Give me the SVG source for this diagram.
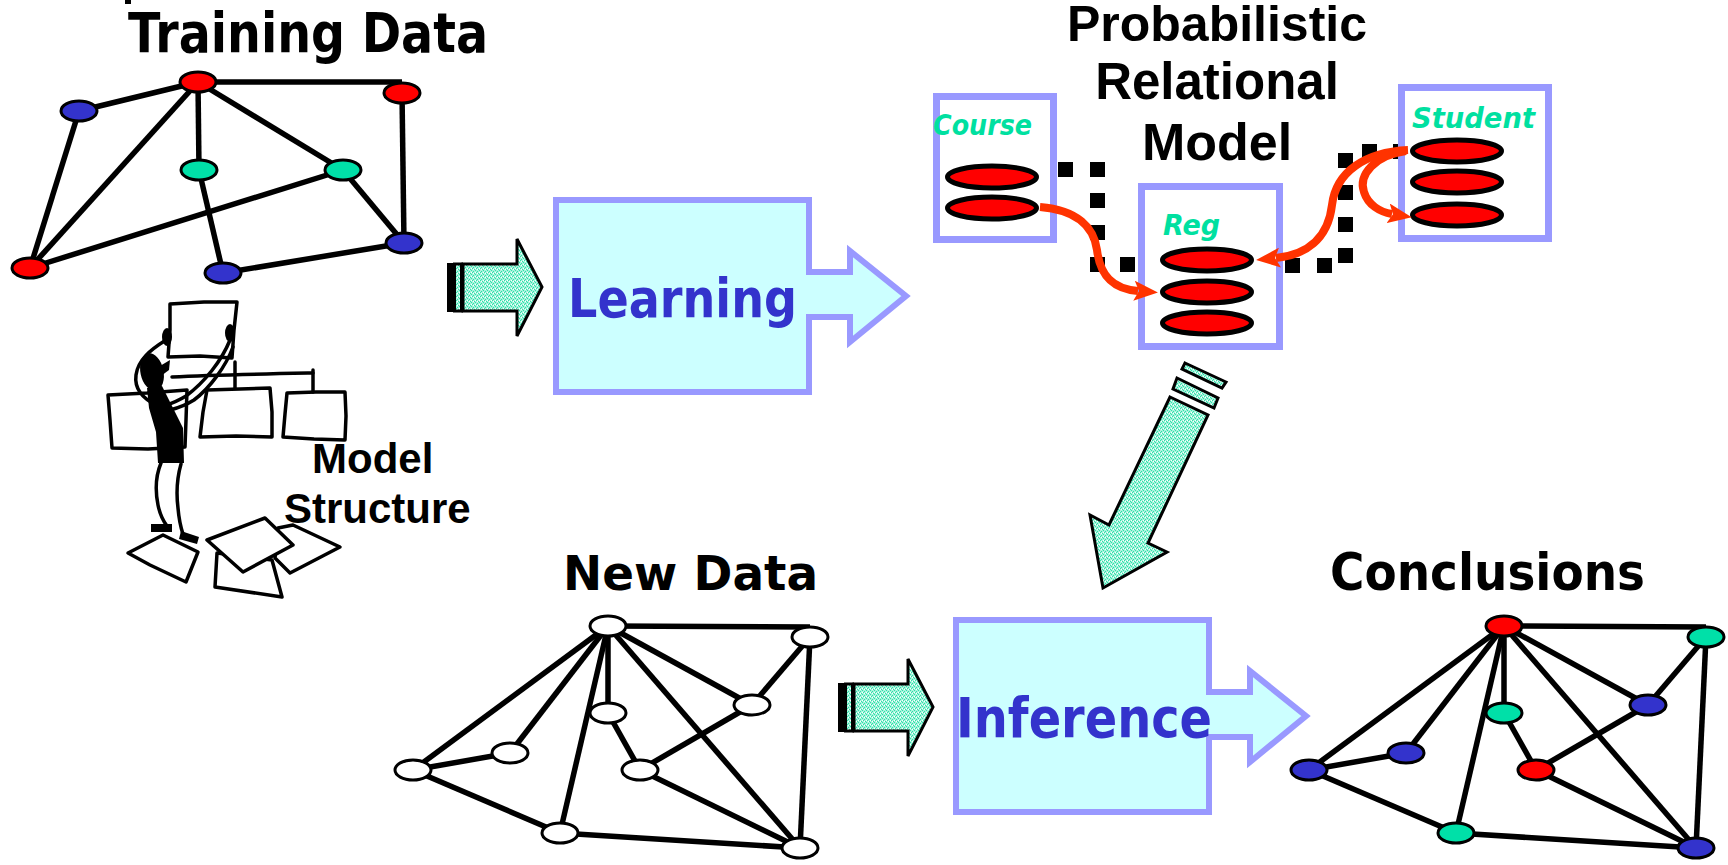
<svg xmlns="http://www.w3.org/2000/svg" width="1728" height="865" viewBox="0 0 1728 865">
  <style>
    .edge{stroke:#000;stroke-width:5.5;fill:none}
    .nd{stroke:#000;stroke-width:3}
    .red{fill:#FF0000}
    .blue{fill:#3333CC}
    .green{fill:#00E0A8}
    .white{fill:#FFFFFF}
    .title{font-family:"DejaVu Sans",Verdana,sans-serif;font-weight:bold;fill:#000}
    .stage{font-family:"DejaVu Sans",Verdana,sans-serif;font-weight:bold;fill:#3333CC}
    .arial{font-family:"Liberation Sans",Arial,sans-serif;font-weight:bold;fill:#000}
    .cls{font-family:"DejaVu Sans",sans-serif;font-weight:bold;font-style:italic;fill:#00E0A0}
    .block{fill:#CCFFFF;stroke:#9999FF;stroke-width:6;stroke-linejoin:miter}
    .ent{fill:#FFFFFF;stroke:#9999FF;stroke-width:7}
    .attr{fill:#FF0000;stroke:#000;stroke-width:5}
    .dep{fill:none;stroke:#FF3300;stroke-width:8;marker-end:url(#head)}
    .sq{fill:#000}
    .ink{fill:none;stroke:#000;stroke-width:3.5;stroke-linejoin:round;stroke-linecap:round}
    .paper{fill:#FFF;stroke:#000;stroke-width:3.5;stroke-linejoin:round}
    .fat{fill:url(#speckle);stroke:#000;stroke-width:3;stroke-linejoin:miter}
  </style>
  <defs>
    <pattern id="speckle" width="4" height="4" patternUnits="userSpaceOnUse">
      <rect width="4" height="4" fill="#A6F4DC"/>
      <rect x="0" y="0" width="1" height="1" fill="#30DDA8"/>
      <rect x="2" y="1" width="1" height="1" fill="#30DDA8"/>
      <rect x="1" y="3" width="1" height="1" fill="#30DDA8"/>
      <rect x="3" y="2" width="1" height="1" fill="#30DDA8"/>
      <rect x="3" y="0" width="1" height="1" fill="#FFFFFF"/>
      <rect x="1" y="1" width="1" height="1" fill="#FFFFFF"/>
    </pattern>
    <marker id="head" viewBox="0 0 24 20" markerWidth="24" markerHeight="20" refX="4" refY="10" orient="auto" markerUnits="userSpaceOnUse">
      <path d="M0,0 L24,10 L0,20 L5,10 Z" fill="#FF3300"/>
    </marker>
    <g id="small-arrow">
      <rect x="447" y="263" width="6" height="49" fill="#000"/>
      <rect x="454.5" y="264" width="7" height="47" class="fat" stroke-width="2"/>
      <polygon points="463,264 517,264 517,239 542,287 517,336 517,311 463,311" class="fat"/>
    </g>
    <path id="block-arrow" d="M556,200 H809 V272 H850 V251 L906,296 L850,342 V317 H809 V392 H556 Z"/>
  </defs>

  <rect width="1728" height="865" fill="#FFFFFF"/>
  <rect x="125" y="0" width="6" height="4" fill="#000"/>

  <!-- graph edges -->
  <g id="graph-edges" class="edge">
    <g id="edges-training">
      <path d="M198,82 L402,82"/>
      <path d="M402,93 L404,243"/>
      <path d="M198,82 L79,111"/>
      <path d="M198,82 L199,170"/>
      <path d="M198,82 L30,268"/>
      <path d="M198,82 L343,170"/>
      <path d="M79,111 L30,268"/>
      <path d="M30,268 L343,170"/>
      <path d="M199,170 L223,273"/>
      <path d="M343,170 L404,243"/>
      <path d="M223,273 L404,243"/>
    </g>
    <g id="edges-new">
      <path d="M608,626 L810,627"/>
      <path d="M608,626 L413,770"/>
      <path d="M608,626 L510,753"/>
      <path d="M608,626 L560,833"/>
      <path d="M608,626 L608,713"/>
      <path d="M608,626 L800,848"/>
      <path d="M608,626 L752,705"/>
      <path d="M810,637 L752,705"/>
      <path d="M810,637 L800,848"/>
      <path d="M608,713 L640,770"/>
      <path d="M640,770 L752,705"/>
      <path d="M640,770 L800,848"/>
      <path d="M413,770 L510,753"/>
      <path d="M413,770 L560,833"/>
      <path d="M560,833 L800,848"/>
    </g>
    <g id="edges-conclusions" transform="translate(896,0)">
      <path d="M608,626 L810,627"/>
      <path d="M608,626 L413,770"/>
      <path d="M608,626 L510,753"/>
      <path d="M608,626 L560,833"/>
      <path d="M608,626 L608,713"/>
      <path d="M608,626 L800,848"/>
      <path d="M608,626 L752,705"/>
      <path d="M810,637 L752,705"/>
      <path d="M810,637 L800,848"/>
      <path d="M608,713 L640,770"/>
      <path d="M640,770 L752,705"/>
      <path d="M640,770 L800,848"/>
      <path d="M413,770 L510,753"/>
      <path d="M413,770 L560,833"/>
      <path d="M560,833 L800,848"/>
    </g>
  </g>

  <!-- training data graph -->
  <g id="training-data">
    <text class="title" x="128" y="52" font-size="55" textLength="360" lengthAdjust="spacingAndGlyphs">Training Data</text>
    <g id="td-a"><ellipse cx="198" cy="82" rx="18" ry="10" class="nd red"/></g>
    <g id="td-b"><ellipse cx="402" cy="93" rx="18" ry="10" class="nd red"/></g>
    <g id="td-c"><ellipse cx="79" cy="111" rx="18" ry="10" class="nd blue"/></g>
    <g id="td-d"><ellipse cx="199" cy="170" rx="18" ry="10" class="nd green"/></g>
    <g id="td-e"><ellipse cx="343" cy="170" rx="18" ry="10" class="nd green"/></g>
    <g id="td-f"><ellipse cx="404" cy="243" rx="18" ry="10" class="nd blue"/></g>
    <g id="td-g"><ellipse cx="30" cy="268" rx="18" ry="10" class="nd red"/></g>
    <g id="td-h"><ellipse cx="223" cy="273" rx="18" ry="10" class="nd blue"/></g>
  </g>

  <!-- person arranging the model structure -->
  <g id="model-structure">
    <polygon class="ink" points="108,395 147,393 187,390 186,420 185,447 148,449 112,448 110,420"/>
    <polygon class="ink" points="207,390 240,389 270,388 272,412 272,437 236,436 200,437 203,412"/>
    <polygon class="ink" points="287,393 316,392 345,392 346,416 345,440 314,439 283,437 285,414"/>
    <path class="ink" d="M172,377 C215,375 265,374 313,373"/>
    <path class="ink" d="M235,362 L235,388"/>
    <path class="ink" d="M313,370 L313,392"/>
    <polygon class="ink" points="170,304 204,302 237,302 234,330 232,358 200,356 168,357 170,330"/>
    <ellipse cx="167" cy="337" rx="5" ry="9" fill="#000"/>
    <ellipse cx="230" cy="333" rx="5" ry="9" fill="#000"/>
    <path class="ink" d="M166,340 C150,350 138,360 136,375 C134,390 145,400 158,406"/>
    <path class="ink" d="M230,340 C222,360 205,382 186,396 C178,401 170,404 164,406"/>
    <path class="ink" d="M233,347 C226,366 210,388 194,400 C186,405 178,408 170,410"/>
    <ellipse cx="152" cy="372" rx="11.5" ry="19" fill="#000" transform="rotate(-12 152 372)"/>
    <path d="M160,366 L170,360 L169,370 L161,376 Z" fill="#000"/>
    <path d="M147,388 L162,386 L172,406 L183,428 L184,463 L158,463 L156,432 L149,408 Z" fill="#000"/>
    <path class="ink" d="M161,463 C156,475 155,490 158,505 C160,515 164,522 167,526" stroke-width="4"/>
    <path class="ink" d="M181,464 C177,478 176,492 178,508 C179,520 181,528 183,534" stroke-width="4"/>
    <rect x="151" y="524" width="21" height="8" fill="#000"/>
    <polygon points="181,531 199,537 197,544 179,539" fill="#000"/>
    <polygon class="paper" points="128,553 163,535 198,552 186,582 150,565"/>
    <polygon class="paper" points="217,553 272,560 282,597 215,587"/>
    <polygon class="paper" points="278,528 293,525 340,547 290,573 275,558"/>
    <polygon class="paper" points="207,540 265,518 293,545 243,572"/>
    <text class="arial" x="312" y="473" font-size="42">Model</text>
    <text class="arial" x="284" y="523" font-size="42">Structure</text>
  </g>

  <!-- learning stage -->
  <g id="learning-input-arrow"><use href="#small-arrow"/></g>
  <g id="learning">
    <use href="#block-arrow" class="block"/>
    <text class="stage" x="568" y="317" font-size="54" textLength="229" lengthAdjust="spacingAndGlyphs">Learning</text>
  </g>

  <!-- probabilistic relational model -->
  <g id="prm-title">
    <text class="arial" x="1217" y="41" font-size="50" text-anchor="middle">Probabilistic</text>
    <text class="arial" x="1217" y="99" font-size="51" text-anchor="middle">Relational</text>
    <text class="arial" x="1217" y="160" font-size="52" text-anchor="middle">Model</text>
  </g>
  <g id="prm-links">
    <rect class="sq" x="1058" y="162" width="15" height="15"/>
    <rect class="sq" x="1090" y="162" width="15" height="15"/>
    <rect class="sq" x="1090" y="193" width="15" height="15"/>
    <rect class="sq" x="1090" y="225" width="15" height="15"/>
    <rect class="sq" x="1090" y="257" width="15" height="15"/>
    <rect class="sq" x="1120" y="257" width="15" height="15"/>
    <rect class="sq" x="1285" y="258" width="15" height="15"/>
    <rect class="sq" x="1317" y="258" width="15" height="15"/>
    <rect class="sq" x="1338" y="248" width="15" height="15"/>
    <rect class="sq" x="1338" y="217" width="15" height="15"/>
    <rect class="sq" x="1338" y="185" width="15" height="15"/>
    <rect class="sq" x="1338" y="153" width="15" height="15"/>
    <rect class="sq" x="1362" y="144" width="15" height="15"/>
    <rect class="sq" x="1393" y="144" width="15" height="15"/>
  </g>
  <g id="course">
    <rect class="ent" x="936.5" y="96.5" width="117" height="143"/>
    <ellipse class="attr" cx="992" cy="177" rx="44.5" ry="11"/>
    <ellipse class="attr" cx="992" cy="208" rx="44.5" ry="11"/>
    <text class="cls" x="933" y="135" font-size="29" textLength="99" lengthAdjust="spacingAndGlyphs">Course</text>
  </g>
  <g id="reg">
    <rect class="ent" x="1141.5" y="186.5" width="138" height="160"/>
    <ellipse class="attr" cx="1207" cy="260" rx="44.5" ry="11"/>
    <ellipse class="attr" cx="1207" cy="292" rx="44.5" ry="11"/>
    <ellipse class="attr" cx="1207" cy="323" rx="44.5" ry="11"/>
    <text class="cls" x="1163" y="235" font-size="28" textLength="57" lengthAdjust="spacingAndGlyphs">Reg</text>
  </g>
  <g id="student">
    <rect class="ent" x="1401.5" y="87.5" width="147" height="151"/>
    <ellipse class="attr" cx="1457" cy="151" rx="44.5" ry="11"/>
    <ellipse class="attr" cx="1457" cy="182" rx="44.5" ry="11"/>
    <ellipse class="attr" cx="1457" cy="215" rx="44.5" ry="11"/>
    <text class="cls" x="1412" y="128" font-size="29" textLength="123" lengthAdjust="spacingAndGlyphs">Student</text>
  </g>
  <g id="dependency-arrows">
    <path class="dep" d="M1040,207 C1078,210 1094,228 1097,250 C1100,275 1112,289 1138,291"/>
    <path class="dep" d="M1408,150 C1365,152 1336,172 1332,205 C1328,240 1305,255 1276,258"/>
    <path class="dep" d="M1406,151 C1375,155 1358,175 1364,192 C1368,205 1380,212 1392,214"/>
  </g>

  <!-- model feeds inference -->
  <g id="model-to-inference-arrow">
    <polygon class="fat" points="1185,363 1226,382 1222,388 1182,369"/>
    <polygon class="fat" points="1177,378 1218,398 1214,408 1173,389"/>
    <polygon class="fat" points="1170,397 1208,415 1148,543 1167,552 1103,588 1090,515 1109,525"/>
  </g>

  <!-- new data graph -->
  <g id="new-data">
    <text class="title" x="563" y="590" font-size="48" textLength="255" lengthAdjust="spacingAndGlyphs">New Data</text>
    <g id="nd-a"><ellipse cx="608" cy="626" rx="18" ry="10" class="nd white"/></g>
    <g id="nd-b"><ellipse cx="810" cy="637" rx="18" ry="10" class="nd white"/></g>
    <g id="nd-c"><ellipse cx="608" cy="713" rx="18" ry="10" class="nd white"/></g>
    <g id="nd-d"><ellipse cx="752" cy="705" rx="18" ry="10" class="nd white"/></g>
    <g id="nd-e"><ellipse cx="510" cy="753" rx="18" ry="10" class="nd white"/></g>
    <g id="nd-f"><ellipse cx="413" cy="770" rx="18" ry="10" class="nd white"/></g>
    <g id="nd-g"><ellipse cx="640" cy="770" rx="18" ry="10" class="nd white"/></g>
    <g id="nd-h"><ellipse cx="560" cy="833" rx="18" ry="10" class="nd white"/></g>
    <g id="nd-i"><ellipse cx="800" cy="848" rx="18" ry="10" class="nd white"/></g>
  </g>

  <!-- inference stage -->
  <g id="inference-input-arrow" transform="translate(391,420)"><use href="#small-arrow"/></g>
  <g id="inference">
    <use href="#block-arrow" class="block" transform="translate(400,420)"/>
    <text class="stage" x="956" y="737" font-size="55" textLength="256" lengthAdjust="spacingAndGlyphs">Inference</text>
  </g>

  <!-- conclusions graph -->
  <g id="conclusions">
    <text class="title" x="1330" y="590" font-size="52" textLength="315" lengthAdjust="spacingAndGlyphs">Conclusions</text>
    <g transform="translate(896,0)">
      <g id="cn-a"><ellipse cx="608" cy="626" rx="18" ry="10" class="nd red"/></g>
      <g id="cn-b"><ellipse cx="810" cy="637" rx="18" ry="10" class="nd green"/></g>
      <g id="cn-c"><ellipse cx="608" cy="713" rx="18" ry="10" class="nd green"/></g>
      <g id="cn-d"><ellipse cx="752" cy="705" rx="18" ry="10" class="nd blue"/></g>
      <g id="cn-e"><ellipse cx="510" cy="753" rx="18" ry="10" class="nd blue"/></g>
      <g id="cn-f"><ellipse cx="413" cy="770" rx="18" ry="10" class="nd blue"/></g>
      <g id="cn-g"><ellipse cx="640" cy="770" rx="18" ry="10" class="nd red"/></g>
      <g id="cn-h"><ellipse cx="560" cy="833" rx="18" ry="10" class="nd green"/></g>
      <g id="cn-i"><ellipse cx="800" cy="848" rx="18" ry="10" class="nd blue"/></g>
    </g>
  </g>
</svg>
